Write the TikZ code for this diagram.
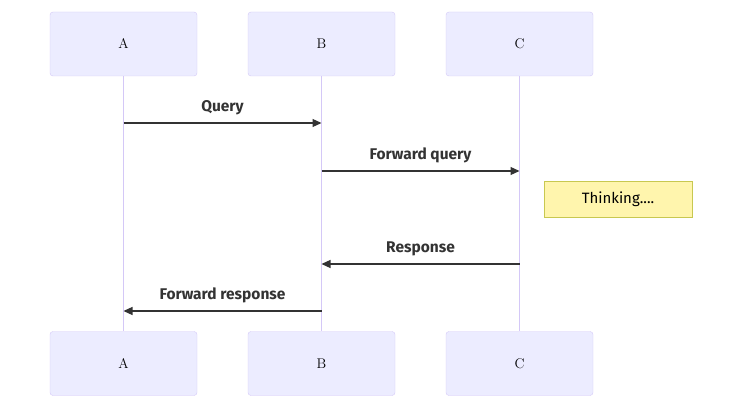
\documentclass[tikz,border=0pt]{standalone}
\usepackage{fontspec}
\setsansfont{Fira Sans}
\usetikzlibrary{arrows.meta}
\definecolor{actorfill}{HTML}{ECECFF}
\definecolor{actorline}{HTML}{D4C8F7}
\definecolor{notefill}{HTML}{FFF5AD}
\definecolor{noteline}{HTML}{C8C850}
\definecolor{msgline}{HTML}{333333}
\begin{document}
\begin{tikzpicture}[x=1pt, y=-1pt,
    actor/.style={draw=actorline, fill=actorfill, rounded corners=3pt, minimum width=147pt, minimum height=64pt, font=\fontsize{14}{16}\selectfont},
    life/.style={draw=actorline, line width=1.4pt},
    msg/.style={draw=msgline, line width=1.3pt, -{Triangle[length=9pt, width=8pt]}},
    msglabel/.style={font=\sffamily\bfseries\fontsize{15.5}{17}\selectfont, text=msgline},
    notebox/.style={draw=noteline, fill=notefill, minimum width=148pt, minimum height=36pt, font=\sffamily\fontsize{15}{17}\selectfont}]
        \useasboundingbox (0,0) rectangle (750,409);

        % Define nodes
        \node[actor] (a1) at (123.5, 44) {A};
        \node[actor] (b1) at (321.5, 44) {B};
        \node[actor] (c1) at (519.5, 44) {C};
        \node[actor] (a2) at (123.5, 363.5) {A};
        \node[actor] (b2) at (321.5, 363.5) {B};
        \node[actor] (c2) at (519.5, 363.5) {C};
        \node[notebox] (note) at (618, 199) {Thinking....};

        % Draw lifelines
        \draw[life] (a1) -- (a2);
        \draw[life] (b1) -- (b2);
        \draw[life] (c1) -- (c2);

        % Message points
        \coordinate (q1) at (123.5, 123);
        \coordinate (q2) at (321.5, 123);
        \coordinate (f1) at (321.5, 171);
        \coordinate (f2) at (519.5, 171);
        \coordinate (r1) at (519.5, 264);
        \coordinate (r2) at (321.5, 264);
        \coordinate (s1) at (321.5, 311);
        \coordinate (s2) at (123.5, 311);

        % Draw edges
        \draw[msg] (q1) -- node[msglabel, above=4pt] {Query} (q2);
        \draw[msg] (f1) -- node[msglabel, above=4pt] {Forward query} (f2);
        \draw[msg] (r1) -- node[msglabel, above=4pt] {Response} (r2);
        \draw[msg] (s1) -- node[msglabel, above=4pt] {Forward response} (s2);
    \end{tikzpicture}
\end{document}
